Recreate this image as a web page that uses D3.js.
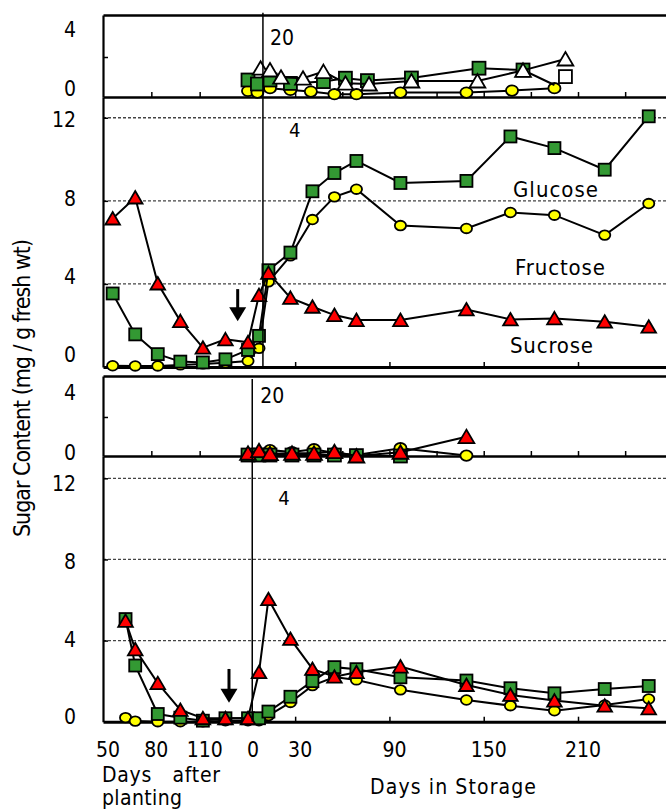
<!DOCTYPE html>
<html>
<head>
<meta charset="utf-8">
<script src="https://cdn.jsdelivr.net/npm/d3@7/dist/d3.min.js"></script>
<style>
  body { margin: 0; background: #fff; }
  svg text { font-family: "Liberation Sans Narrow", "Arial Narrow", "DejaVu Sans Condensed", sans-serif; fill: #000; }
</style>
</head>
<body>
<div id="chart"></div>
<script>
// ---- data (days after planting before harvest, days in storage after) ----
var preDaysUpper = [56, 70, 84, 98, 112, 126, 140];
var preDaysLower = [64, 70, 84, 98, 112, 126, 140];
var storageDays = [7, 13, 27, 41, 55, 69, 97, 139, 167, 195, 227, 255];

// upper main panel
var sucroseUpperPre = [7.15, 8.16, 4.02, 2.21, 0.93, 1.33, 1.19];
var sucroseUpperSto = [3.46, 4.53, 3.33, 2.9, 2.5, 2.26, 2.26, 2.77, 2.29, 2.34, 2.18, 1.94];
var glucoseUpperPre = [3.54, 1.57, 0.62, 0.26, 0.22, 0.37, 0.82];
var glucoseUpperSto = [1.5, 4.66, 5.51, 8.46, 9.34, 9.92, 8.86, 8.96, 11.1, 10.54, 9.5, 12.07];
var fructoseUpperPre = [0.06, 0.05, 0.05, 0.1, 0.15, 0.2, 0.29];
var fructoseUpperSto = [0.9, 4.1, 5.35, 7.1, 8.19, 8.56, 6.81, 6.67, 7.44, 7.31, 6.35, 7.87];

// lower main panel
var sucroseLowerPre = [4.97, 3.57, 1.9, 0.58, 0.17, 0.17, 0.17];
var sucroseLowerSto = [2.44, 6.04, 4.08, 2.6, 2.22, 2.44, 2.72, 1.81, 1.32, 1.04, 0.79, 0.66];
var glucoseLowerPre = [5.06, 2.77, 0.38, 0.2, 0.05, 0.17, 0.17];
var glucoseLowerSto = [0.17, 0.5, 1.23, 2.0, 2.69, 2.59, 2.19, 2.03, 1.65, 1.4, 1.61, 1.76];
var fructoseLowerPre = [0.2, 0.03, 0, 0, 0, 0.05, 0.05];
var fructoseLowerSto = [0.05, 0.3, 0.95, 1.78, 2.2, 2.06, 1.57, 1.07, 0.79, 0.54, 0.82, 1.12];

// upper inset (storage only)
var insetUpperGreenDays = [0, 6, 14, 27, 48, 62, 76, 104, 147, 175, 195];
var insetUpperGreenVals = [0.85, 0.65, 0.85, 0.68, 0.77, 0.94, 0.82, 0.95, 1.44, 1.35, 0.6];
var insetUpperTriDays = [8, 14, 21, 35, 48, 62, 77, 104, 146, 175, 202];
var insetUpperTriVals = [1.44, 1.35, 0.99, 0.94, 1.27, 0.69, 0.65, 0.8, 0.8, 1.33, 1.9];
var insetUpperYelDays = [0, 6, 14, 27, 40, 55, 69, 97, 139, 168, 195];
var insetUpperYelVals = [0.3, 0.22, 0.44, 0.35, 0.27, 0.14, 0.14, 0.22, 0.22, 0.32, 0.44];
var insetUpperSquareDays = [202];
var insetUpperSquareVals = [1.02];

// lower inset (storage only)
var insetLowerDays = [0, 7, 14, 28, 42, 55, 69, 97, 139];
var insetLowerRedVals = [0.14, 0.27, 0.12, 0.14, 0.14, 0.22, 0, 0.19, 0.99];
var insetLowerYelVals = [0.1, 0, 0.3, 0.2, 0.35, 0.15, 0.05, 0.4, 0.02];
var insetLowerGreenVals = [0.05, 0.05, 0.05, 0.05, 0.05, 0.05, 0.02, 0];

var xLabelsPre = [50, 80, 110];
var xLabelsSto = [0, 30, 90, 150, 210];

var GREEN = '#339933', RED = '#ff0000', YELLOW = '#ffff00', WHITE = '#ffffff';

(function() {
  var width = 666;
  var height = 812;

  var svg = d3.select('#chart')
    .append('svg')
    .attr('width', width)
    .attr('height', height);

  // one time line: days after planting up to harvest (140), then 140 + storage day
  var harvest = 140;
  var x = d3.scaleLinear().domain([50, harvest, harvest + 270]).range([103, 248, 672.3]);
  function sto(s) { return harvest + s; }

  var panels = [
    { name: 'upperInset', y: d3.scaleLinear().domain([0, 4.1]).range([97, 15]), top: true,
      labels: [0, 4], labelY: d3.scaleLinear().domain([0, 4]).range([89, 30]) },
    { name: 'upperMain', y: d3.scaleLinear().domain([0, 13]).range([367, 97]), grid: true,
      labels: [0, 4, 8, 12], labelY: d3.scaleLinear().domain([0, 12]).range([355, 120]) },
    { name: 'lowerInset', y: d3.scaleLinear().domain([0, 4.1]).range([456, 376]), top: true,
      labels: [0, 4], labelY: d3.scaleLinear().domain([0, 4]).range([453, 393]) },
    { name: 'lowerMain', y: d3.scaleLinear().domain([0, 13.1]).range([721.7, 456]), grid: true,
      labels: [0, 4, 8, 12], labelY: d3.scaleLinear().domain([0, 12]).range([717, 484]) }
  ];

  var smallTicks = [80, 110].concat(d3.range(30, 271, 30).map(sto));
  var bigTicks = [30, 90, 150, 210].map(sto);

  panels.forEach(function(p) {
    var g = svg.append('g').attr('class', p.name);
    p.g = g;

    if (p.grid) {
      g.selectAll('.grid')
        .data([4, 8, 12])
        .enter().append('line')
        .attr('class', 'grid')
        .attr('x1', 103).attr('x2', width)
        .attr('y1', function(d) { return p.y(d); })
        .attr('y2', function(d) { return p.y(d); })
        .attr('stroke', '#444').attr('stroke-width', 1.3)
        .attr('stroke-dasharray', '3,2');
    }

    // left axis
    var left = g.append('g')
      .attr('transform', 'translate(103,0)')
      .call(d3.axisRight(p.y).tickValues(p.grid ? [4, 8, 12] : [2]).tickSize(5).tickSizeOuter(0).tickFormat(''));
    left.select('.domain').attr('stroke-width', 2.2);
    left.selectAll('.tick line').attr('stroke-width', 1.5);

    // bottom axis
    var bottom = g.append('g')
      .attr('transform', 'translate(0,' + p.y(0) + ')')
      .call(d3.axisTop(x).tickValues(p.grid ? bigTicks : smallTicks).tickSize(5).tickSizeOuter(0).tickFormat(''));
    bottom.select('.domain').attr('stroke-width', p.grid ? 3 : 2.5);
    bottom.selectAll('.tick line').attr('stroke-width', 1.5);

    if (p.top) {
      var t = g.append('g')
        .attr('transform', 'translate(0,' + p.y.range()[1] + ')')
        .call(d3.axisBottom(x).tickValues([]).tickSizeOuter(0));
      t.select('.domain').attr('stroke-width', 2.5);
    }

    g.selectAll('.ylab')
      .data(p.labels)
      .enter().append('text')
      .attr('class', 'ylab')
      .attr('x', 76)
      .attr('y', function(d) { return p.labelY(d); })
      .attr('dy', '0.35em')
      .attr('text-anchor', 'end')
      .style('font-size', '21px')
      .text(function(d) { return d; });
  });

  function zip(days, vals) {
    return vals.map(function(v, i) { return { t: days[i], v: v }; });
  }
  function full(pre, preVals, stoVals) {
    return zip(pre, preVals).concat(zip(storageDays.map(sto), stoVals));
  }

  function marker(sel, shape, fill, big) {
    var s = big ? 1 : 1.08;
    if (shape === 'square') {
      sel.append('rect')
        .attr('x', -6 * s).attr('y', -6 * s)
        .attr('width', 12 * s).attr('height', 12 * s);
    } else if (shape === 'circle') {
      sel.append('ellipse').attr('rx', 5.6 * s).attr('ry', 4.8 * s);
    } else {
      sel.append('path').attr('d', 'M0,' + (-6.5 * s) + 'L' + (7.3 * s) + ',' + (6 * s) + 'L' + (-7.3 * s) + ',' + (6 * s) + 'Z');
    }
    sel.selectAll('*')
      .attr('fill', fill)
      .attr('stroke', '#000')
      .attr('stroke-width', 1.8)
      .attr('stroke-linejoin', 'miter');
  }

  function drawSeries(p, data, shape, fill, opts) {
    opts = opts || {};
    var line = d3.line()
      .x(function(d) { return x(d.t); })
      .y(function(d) { return p.y(d.v); });
    if (!opts.noLine) {
      p.g.append('path')
        .datum(data)
        .attr('d', line)
        .attr('fill', 'none')
        .attr('stroke', '#000')
        .attr('stroke-width', 2);
    }
    var pts = opts.markerCount ? data.slice(0, opts.markerCount) : data;
    p.g.selectAll('.m-' + shape + fill.replace('#', ''))
      .data(pts)
      .enter().append('g')
      .attr('class', 'm-' + shape + fill.replace('#', ''))
      .attr('transform', function(d) { return 'translate(' + x(d.t) + ',' + p.y(d.v) + ')'; })
      .each(function() { marker(d3.select(this), shape, fill, !!p.grid); });
  }

  // upper inset
  var pUI = panels[0];
  drawSeries(pUI, zip(insetUpperYelDays.map(sto), insetUpperYelVals), 'circle', YELLOW);
  // last glucose point is only a line end, no marker visible
  drawSeries(pUI, zip(insetUpperGreenDays.map(sto), insetUpperGreenVals), 'square', GREEN, { markerCount: insetUpperGreenVals.length - 1 });
  drawSeries(pUI, zip(insetUpperTriDays.map(sto), insetUpperTriVals), 'triangle', WHITE);
  drawSeries(pUI, zip(insetUpperSquareDays.map(sto), insetUpperSquareVals), 'square', WHITE, { noLine: true });

  // upper main
  var pUM = panels[1];
  drawSeries(pUM, full(preDaysUpper, fructoseUpperPre, fructoseUpperSto), 'circle', YELLOW);
  drawSeries(pUM, full(preDaysUpper, glucoseUpperPre, glucoseUpperSto), 'square', GREEN);
  drawSeries(pUM, full(preDaysUpper, sucroseUpperPre, sucroseUpperSto), 'triangle', RED);

  // lower inset
  var pLI = panels[2];
  drawSeries(pLI, zip(insetLowerDays.map(sto), insetLowerYelVals), 'circle', YELLOW);
  drawSeries(pLI, zip(insetLowerDays.map(sto), insetLowerGreenVals), 'square', GREEN);
  drawSeries(pLI, zip(insetLowerDays.map(sto), insetLowerRedVals), 'triangle', RED);

  // lower main
  var pLM = panels[3];
  drawSeries(pLM, full(preDaysLower, fructoseLowerPre, fructoseLowerSto), 'circle', YELLOW);
  drawSeries(pLM, full(preDaysLower, glucoseLowerPre, glucoseLowerSto), 'square', GREEN);
  drawSeries(pLM, full(preDaysLower, sucroseLowerPre, sucroseLowerSto), 'triangle', RED);

  // vertical marker lines with their stray labels
  var vUpper = x(sto(9.5)), vLower = x(sto(2.7));
  svg.append('line').attr('x1', vUpper).attr('x2', vUpper).attr('y1', 12.7).attr('y2', pUM.y(0))
    .attr('stroke', '#000').attr('stroke-width', 1.5);
  svg.append('line').attr('x1', vLower).attr('x2', vLower).attr('y1', 379).attr('y2', pLM.y(0))
    .attr('stroke', '#000').attr('stroke-width', 1.5);

  function label(txt, xx, yy, size, len) {
    var t = svg.append('text').attr('x', xx).attr('y', yy).style('font-size', size + 'px').text(txt);
    if (len) t.attr('textLength', len).attr('lengthAdjust', 'spacing');
    return t;
  }
  label('20', vUpper + 7, 45, 21);
  label('4', vUpper + 26, 137, 20);
  label('20', vLower + 8, 403, 21);
  label('4', vLower + 26, 505, 20);

  // harvest arrows
  function arrow(p, t, from, to) {
    var ax = x(t), y0 = p.y(from), y1 = p.y(to);
    svg.append('line').attr('x1', ax).attr('x2', ax).attr('y1', y0).attr('y2', y1 - 10)
      .attr('stroke', '#000').attr('stroke-width', 3);
    svg.append('path')
      .attr('d', 'M' + (ax - 8.5) + ',' + (y1 - 14) + 'L' + (ax + 8.5) + ',' + (y1 - 14) + 'L' + ax + ',' + y1 + 'Z')
      .attr('fill', '#000');
  }
  arrow(pUM, 133.6, 3.75, 2.2);
  arrow(pLM, 128.2, 2.6, 0.94);

  // series names
  label('Glucose', 513, 196.5, 22, 85);
  label('Fructose', 515, 275, 22, 90);
  label('Sucrose', 510, 352.5, 22, 83);

  // x tick labels
  var xLabs = xLabelsPre.map(function(d) { return { t: d, s: d }; })
    .concat(xLabelsSto.map(function(d) { return { t: sto(d), s: d }; }));
  svg.selectAll('.xlab')
    .data(xLabs)
    .enter().append('text')
    .attr('class', 'xlab')
    .attr('x', function(d) { return x(d.t) + 5; })
    .attr('y', 756.5)
    .attr('text-anchor', 'middle')
    .style('font-size', '21px')
    .text(function(d) { return d.s; });

  label('Days after', 102, 782, 21, 118).style('word-spacing', '14px');
  label('planting', 102, 805, 21, 80);
  label('Days in Storage', 370, 794, 21, 166);

  svg.append('text')
    .attr('transform', 'translate(30,388) rotate(-90)')
    .attr('text-anchor', 'middle')
    .attr('textLength', 298)
    .attr('lengthAdjust', 'spacing')
    .style('font-size', '23px')
    .text('Sugar Content (mg / g fresh wt)');
})();
</script>
</body>
</html>
